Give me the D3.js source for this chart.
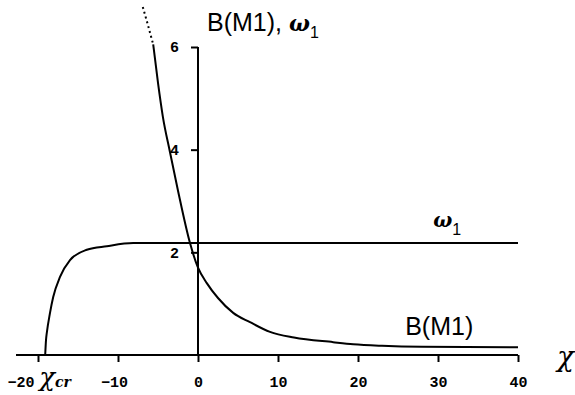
<!DOCTYPE html>
<html>
<head>
<meta charset="utf-8">
<script src="https://cdn.jsdelivr.net/npm/d3@7"></script>
<style>
  body { margin: 0; background: #fff; }
  svg { display: block; }
</style>
</head>
<body>
<div id="chart"></div>
<script>
// data
const xTicks = [-20, -10, 0, 10, 20, 30, 40];
const yTicks = [2, 4, 6];
const chiCr = -19.1;

// B(M1): dotted head above the axis top, then solid
const bDotted = [[-6.9, 6.78], [-6.3, 6.45], [-5.6, 6.05]];
const bSolid = [
  [-5.6, 6.05], [-5.0, 5.3], [-4.4, 4.65], [-3.5, 3.95], [-2.5, 3.2],
  [-1.0, 2.18], [0, 1.7], [1.1, 1.4], [2.5, 1.11], [4.4, 0.82],
  [6.5, 0.64], [9, 0.45], [12, 0.34], [16.9, 0.25], [19.4, 0.21],
  [23, 0.18], [28, 0.16], [40, 0.15]
];

// omega_1
const omega = [
  [-19.1, 0], [-19.0, 0.29], [-18.9, 0.43], [-18.5, 0.82], [-18.1, 1.13],
  [-17.25, 1.52], [-16, 1.85], [-13.9, 2.05], [-11.4, 2.12], [-8.1, 2.18],
  [0, 2.18], [40, 2.18]
];

const width = 575;
const height = 395;
const xAxisStart = -22.75;

const x = d3.scaleLinear().domain([-20, 40]).range([38, 518]);
const y = d3.scaleLinear().domain([0, 6]).range([355, 47]);

const svg = d3.select('#chart').append('svg')
  .attr('width', width)
  .attr('height', height);

const ink = '#000';
const tickFont = '"Liberation Mono", "DejaVu Sans Mono", monospace';

// x axis
const xAxis = svg.append('g')
  .attr('transform', `translate(0,${y(0)})`)
  .call(d3.axisBottom(x).tickValues(xTicks).tickSize(7).tickSizeOuter(0));
xAxis.select('.domain').remove();
xAxis.selectAll('line').attr('stroke', ink).attr('stroke-width', 2);
xAxis.selectAll('text')
  .attr('y', 32).attr('dy', 0)
  .attr('font-family', tickFont)
  .attr('font-weight', 'bold')
  .attr('font-size', '15px')
  .attr('fill', ink)
  .each(function (d) {
    const t = d3.select(this);
    if (d === -20) t.attr('text-anchor', 'end').attr('x', -4);
    if (d === -10) t.attr('x', -4);
  });

svg.append('line')
  .attr('x1', x(xAxisStart)).attr('x2', x(40))
  .attr('y1', y(0)).attr('y2', y(0))
  .attr('stroke', ink).attr('stroke-width', 2);

// y axis
const yAxis = svg.append('g')
  .attr('transform', `translate(${x(0)},0)`)
  .call(d3.axisLeft(y).tickValues(yTicks).tickFormat(d3.format('d'))
    .tickSize(7).tickPadding(12).tickSizeOuter(0));
yAxis.select('.domain').remove();
yAxis.selectAll('line').attr('stroke', ink).attr('stroke-width', 2);
yAxis.selectAll('text')
  .attr('font-family', tickFont)
  .attr('font-weight', 'bold')
  .attr('font-size', '15px')
  .attr('fill', ink);

svg.append('line')
  .attr('x1', x(0)).attr('x2', x(0))
  .attr('y1', y(0)).attr('y2', y(6))
  .attr('stroke', ink).attr('stroke-width', 2);

// curves
const line = d3.line()
  .x(d => x(d[0]))
  .y(d => y(d[1]))
  .curve(d3.curveMonotoneX);

svg.append('path')
  .datum(omega)
  .attr('d', line)
  .attr('fill', 'none')
  .attr('stroke', ink)
  .attr('stroke-width', 2);

svg.append('path')
  .datum(bSolid)
  .attr('d', line)
  .attr('fill', 'none')
  .attr('stroke', ink)
  .attr('stroke-width', 2);

svg.append('path')
  .datum(bDotted)
  .attr('d', line)
  .attr('fill', 'none')
  .attr('stroke', ink)
  .attr('stroke-width', 2)
  .attr('stroke-dasharray', '2 3');

// labels
const sans = '"Liberation Sans", Arial, sans-serif';
const serif = '"DejaVu Serif", "Liberation Serif", serif';

const title = svg.append('text')
  .attr('x', 207).attr('y', 31)
  .attr('font-family', sans).attr('font-size', '25px').attr('fill', ink);
title.append('tspan').text('B(M1), ');
title.append('tspan').attr('font-family', serif).attr('font-style', 'italic')
  .attr('font-weight', 'bold').attr('font-size', '22px').text('ω');
title.append('tspan').attr('font-size', '16px').attr('dy', 7).text('1');

const omegaLabel = svg.append('text')
  .attr('x', x(29.4)).attr('y', y(2.18) - 16)
  .attr('font-family', serif).attr('font-style', 'italic')
  .attr('font-weight', 'bold').attr('font-size', '20px').attr('fill', ink);
omegaLabel.append('tspan').text('ω');
omegaLabel.append('tspan').attr('font-family', sans).attr('font-style', 'normal')
  .attr('font-weight', 'normal').attr('font-size', '16px').attr('dy', 8).text('1');

svg.append('text')
  .attr('x', x(25.9)).attr('y', y(0.39))
  .attr('font-family', sans).attr('font-size', '25px').attr('fill', ink)
  .text('B(M1)');

svg.append('text')
  .attr('x', 557).attr('y', 366)
  .attr('font-family', serif).attr('font-style', 'italic')
  .attr('font-size', '28px').attr('fill', ink)
  .text('χ');

const crLabel = svg.append('text')
  .attr('x', x(chiCr) - 6).attr('y', 386)
  .attr('font-family', serif).attr('font-style', 'italic')
  .attr('font-size', '26px').attr('fill', ink);
crLabel.append('tspan').text('χ');
crLabel.append('tspan').attr('font-size', '14px').attr('font-weight', 'bold').attr('dy', 1).text('cr');
</script>
</body>
</html>
